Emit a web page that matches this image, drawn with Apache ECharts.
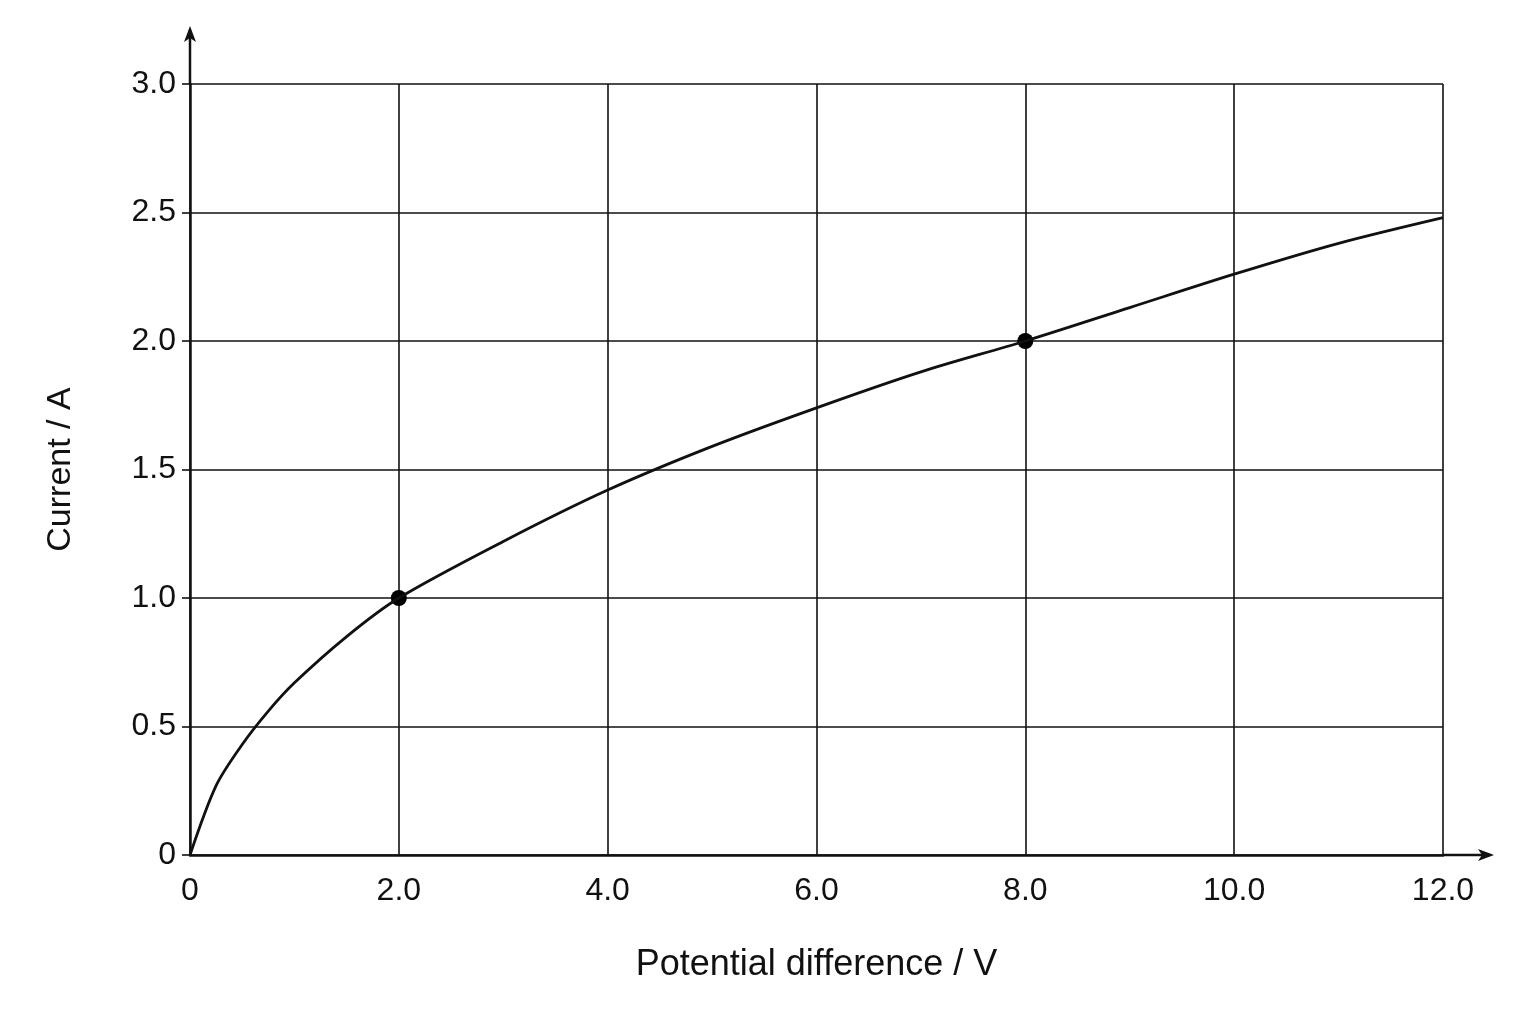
<!DOCTYPE html>
<html><head><meta charset="utf-8">
<script src="https://cdn.jsdelivr.net/npm/echarts@6/dist/echarts.min.js"></script>
<style>html,body{margin:0;padding:0;background:#fff}#c{width:1536px;height:1024px}</style>
</head><body><div id="c"></div>
<script>
const voltage = [0, 0.25, 0.5, 0.75, 1, 1.5, 2, 3, 4, 5, 6, 7, 8, 9, 10, 11, 12];
const current = [0, 0.27, 0.43, 0.56, 0.67, 0.85, 1.0, 1.22, 1.42, 1.59, 1.74, 1.88, 2.0, 2.13, 2.26, 2.38, 2.48];
const markedV = [2, 8];
const markedI = [1.0, 2.0];
const xTicks = [0, 2, 4, 6, 8, 10, 12];
const yTicks = [0, 0.5, 1, 1.5, 2, 2.5, 3];

const chart = echarts.init(document.getElementById('c'));
const font = 'Liberation Sans, Arial, sans-serif';
chart.setOption({
  backgroundColor: '#fff',
  animation: false,
  grid: {left: 190, right: 93, top: 84, bottom: 169},
  xAxis: {
    type: 'value', min: 0, max: 12, interval: 2,
    name: 'Potential difference / V', nameLocation: 'middle', nameGap: 92,
    nameTextStyle: {fontSize: 36, color: '#111', fontFamily: font},
    axisLine: {lineStyle: {color: '#111', width: 2.5}},
    axisTick: {show: false},
    axisLabel: {fontSize: 32, color: '#111', fontFamily: font, margin: 20,
      formatter: v => v === 0 ? '0' : v.toFixed(1)},
    splitLine: {lineStyle: {color: '#111', width: 1.6}}
  },
  yAxis: {
    type: 'value', min: 0, max: 3, interval: 0.5,
    name: 'Current / A', nameLocation: 'middle', nameGap: 112, nameRotate: 90,
    nameTextStyle: {fontSize: 34, color: '#111', fontFamily: font},
    axisLine: {show: true, lineStyle: {color: '#111', width: 2.5}},
    axisTick: {show: true, length: 8, lineStyle: {color: '#111', width: 1.6}},
    axisLabel: {fontSize: 32, color: '#111', fontFamily: font, margin: 14,
      formatter: v => v === 0 ? '0' : v.toFixed(1)},
    splitLine: {lineStyle: {color: '#111', width: 1.6}}
  },
  series: [
    {type: 'line', data: voltage.map((v, i) => [v, current[i]]), smooth: 0.3,
     showSymbol: false, lineStyle: {color: '#111', width: 2.8}},
    {type: 'scatter', data: markedV.map((v, i) => [v, markedI[i]]), symbolSize: 16,
     itemStyle: {color: '#000', opacity: 1}}
  ],
  graphic: [
    {type: 'line', shape: {x1: 190, y1: 84, x2: 190, y2: 30}, style: {stroke: '#111', lineWidth: 2.5}},
    {type: 'polygon', shape: {points: [[190, 26], [184, 42], [190, 38], [196, 42]]}, style: {fill: '#111'}},
    {type: 'line', shape: {x1: 1443, y1: 855, x2: 1490, y2: 855}, style: {stroke: '#111', lineWidth: 2.5}},
    {type: 'polygon', shape: {points: [[1494, 855], [1478, 849], [1482, 855], [1478, 861]]}, style: {fill: '#111'}}
  ]
});
</script></body></html>
